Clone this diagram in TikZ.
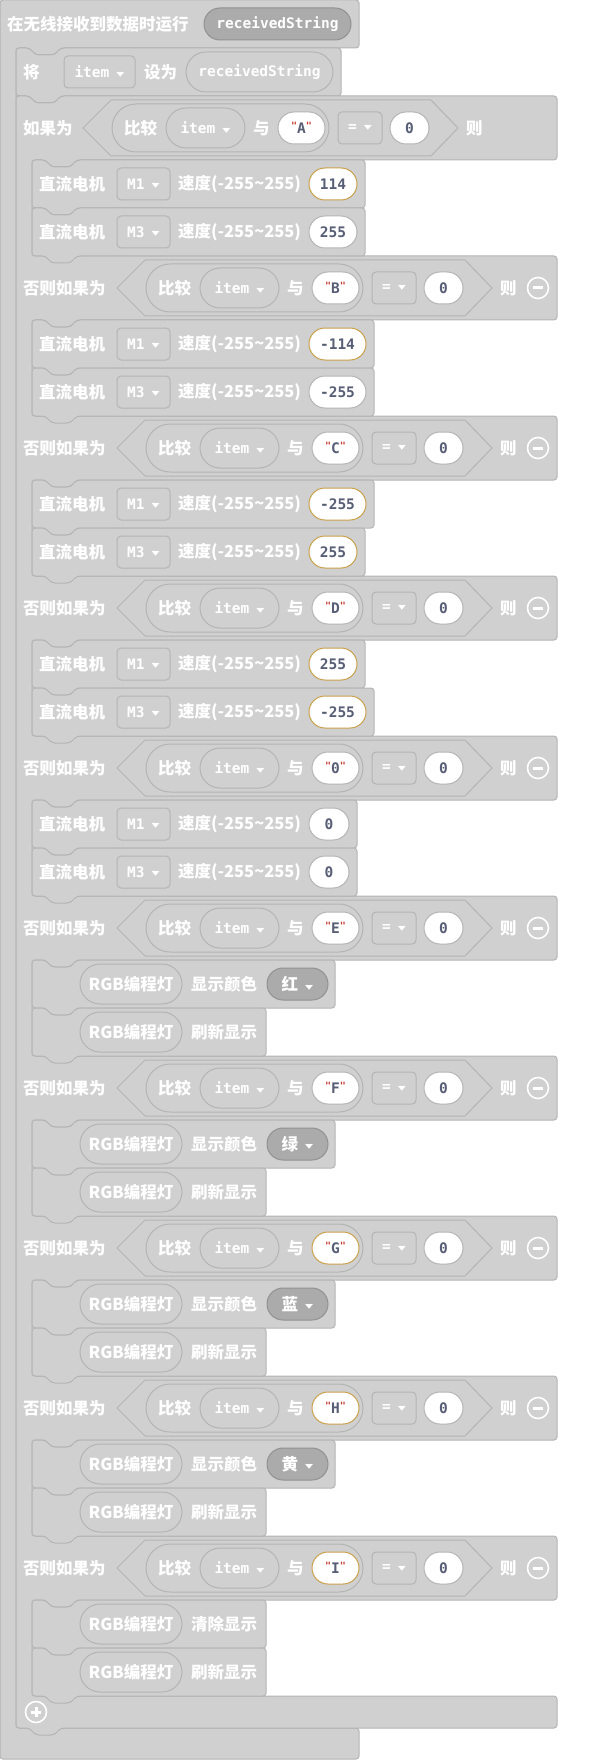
\documentclass[tikz,border=0pt]{standalone}
\usepackage{fontspec}
\usetikzlibrary{positioning, backgrounds}
\setmonofont{DejaVu Sans Mono}
\newfontfamily\cjk{Noto Sans CJK SC}
\newfontfamily\symf{DejaVu Sans}

\definecolor{blkfill}{HTML}{D0D0D0}
\definecolor{blkline}{HTML}{B4B4B4}
\definecolor{darkfill}{HTML}{ABABAB}
\definecolor{valtext}{HTML}{575E75}
\definecolor{focus}{HTML}{C9A04A}
\definecolor{qred}{HTML}{C8372D}

\tikzset{
	blk/.style={fill=blkfill, draw=blkline, line width=1pt, rounded corners=3pt},
	hexa/.style={fill=blkfill, draw=blkline, line width=1pt},
	cjkfont/.style={font=\cjk\bfseries\fontsize{16.5}{16.5}\selectfont},
	lbl/.style={anchor=west, inner sep=0pt, text=white, cjkfont},
	mono/.style={font=\ttfamily\bfseries\fontsize{14.5}{14.5}\selectfont},
	dropbox/.style={mono, draw=blkline, fill=blkfill, line width=1pt, rounded corners=4pt,
		text=white, inner sep=0pt, minimum height=32},
	roundbox/.style={mono, draw=blkline, fill=blkfill, line width=1pt, rounded corners=20pt,
		text=white, inner sep=0pt, minimum height=40},
	valpill/.style={mono, draw=blkline, fill=white, line width=1pt, rounded corners=16pt,
		text=valtext, inner sep=0pt, minimum height=32},
	darkpill/.style={draw=darkfill!85!black, fill=darkfill, line width=1pt, rounded corners=16pt,
		text=white, inner sep=0pt, minimum height=32},
	plain/.style={},
	focused/.style={draw=focus},
	icon/.style={circle, draw=white, line width=1.6pt, minimum size=21, inner sep=0pt},
}

\newcommand{\arr}{\hspace{7pt}\raisebox{1.5pt}{\scalebox{1.5}[0.9]{\symf\fontsize{7}{7}\selectfont ▼}}}
\newcommand{\qm}{\textcolor{qred}{\raisebox{4.5pt}{\fontsize{10}{10}\selectfont"}}}

% statement block: left, top, right, bottom
\newcommand{\stmt}[4]{%
	\path[blk] (#1,#2) -- ++(13,0) -- ++(7,7) -- ++(18,0) -- ++(7,-7)
		-- (#3,#2) -- (#3,#4) -- ({#1+45},#4) -- ++(-7,7) -- ++(-18,0)
		-- ++(-7,-7) -- (#1,#4) -- cycle;}

% motor: name, top, port, value, right edge, pill style
\newcommand{\motor}[6]{%
	\stmt{32}{#2}{#5}{#2+48}
	\node[lbl] (#1) at (39,#2+24) {直流电机};
	\node[dropbox, minimum width=53] (#1-port) at (143.5,#2+24) {#3\arr};
	\node[lbl] (#1-speed) at (178,#2+24) {速度(-255\textasciitilde 255)};
	\node[valpill, #6, minimum width={#5-317}] (#1-val) at ({(#5+301)/2},#2+24) {#4};
}

% rgb light: name, top, colour
\newcommand{\rgbcolour}[3]{%
	\stmt{32}{#2}{335}{#2+48}
	\node[roundbox, cjkfont, minimum width=102] (#1) at (131,#2+24) {RGB编程灯};
	\node[lbl] (#1-act) at (191,#2+24) {显示颜色};
	\node[darkpill, cjkfont, minimum width=61] (#1-col) at (297.5,#2+24) {#3\arr};
}
\newcommand{\rgbaction}[3]{%
	\stmt{32}{#2}{266}{#2+48}
	\node[roundbox, cjkfont, minimum width=102] (#1) at (131,#2+24) {RGB编程灯};
	\node[lbl] (#1-act) at (191,#2+24) {#3};
}

% condition row: name, top, shift, word, letter, pill style
\newcommand{\cond}[6]{%
	\node[lbl] (#1) at (23,#2+32) {#4};
	\path[hexa] ({117+(#3)},#2+32) -- ({145+(#3)},#2+4) -- ({465+(#3)},#2+4)
		-- ({492+(#3)},#2+32) -- ({465+(#3)},#2+60) -- ({145+(#3)},#2+60) -- cycle;
	\node[roundbox, minimum width=217, minimum height=48, rounded corners=24pt] (#1-cmp)
		at ({254.5+(#3)},#2+32) {};
	\node[lbl] (#1-kw) at ({158+(#3)},#2+32) {比较};
	\node[roundbox, minimum width=79] (#1-var) at ({239.5+(#3)},#2+32) {item\arr};
	\node[lbl] (#1-with) at ({287+(#3)},#2+32) {与};
	\node[valpill, #6, minimum width=47] (#1-str) at ({335.5+(#3)},#2+32) {\qm#5\qm};
	\node[dropbox, minimum width=44] (#1-op) at ({394+(#3)},#2+32) {=\arr};
	\node[valpill, minimum width=39] (#1-num) at ({443.5+(#3)},#2+32) {0};
	\node[lbl] (#1-then) at ({500+(#3)},#2+32) {则};
}

\begin{document}
\begin{tikzpicture}[x=1pt, y=-1pt]
\useasboundingbox (0,0) rectangle (608,1760);

% hat block
\path[blk] (0,0) -- (359,0) -- (359,48) -- (61,48) -- ++(-7,7) -- ++(-18,0) -- ++(-7,-7)
	-- (16,48) -- (16,1728) -- (359,1728) -- (359,1759) -- (0,1759) -- cycle;
\node[lbl] (hat) at (7,24) {在无线接收到数据时运行};
\node[darkpill, mono, minimum width=147] (hat-arg) at (277.5,24) {receivedString};

% set item
\stmt{16}{48}{341}{96}
\node[lbl] (set) at (23,72) {将};
\node[dropbox, minimum width=71] (set-var) at (99.5,72) {item\arr};
\node[lbl] (set-to) at (144,72) {设为};
\node[roundbox, minimum width=147] (set-val) at (259.5,72) {receivedString};

% if / else if block
\path[blk] (16,96) -- ++(13,0) -- ++(7,7) -- ++(18,0) -- ++(7,-7) -- (557,96)
	\foreach \k in {0,...,9} {
		-- (557,160+160*\k) -- (77,160+160*\k) -- ++(-7,7) -- ++(-18,0) -- ++(-7,-7)
		-- (32,160+160*\k) -- (32,256+160*\k) -- (557,256+160*\k)
	}
	-- (557,1728) -- (61,1728) -- ++(-7,7) -- ++(-18,0) -- ++(-7,-7) -- (16,1728) -- cycle;

\cond{if0}{96}{-34}{如果为}{A}{plain}
\foreach \k/\ch/\f in {1/B/plain, 2/C/plain, 3/D/plain, 4/0/plain, 5/E/plain,
		6/F/plain, 7/G/focused, 8/H/focused, 9/I/focused}{
	\cond{if\k}{96+160*\k}{0}{否则如果为}{\ch}{\f}
	\node[icon] (minus\k) at (538,128+160*\k) {};
	\draw[white, line width=3pt] (minus\k.center) ++(-5,0) -- ++(10,0);
}

% motors
\foreach \k/\va/\fa/\wa/\vb/\fb/\wb in {0/114/focused/365/255/plain/365,
		1/-114/focused/374/-255/plain/374, 2/-255/focused/374/255/focused/365,
		3/255/focused/365/-255/focused/374, 4/0/plain/357/0/plain/357}{
	\motor{m\k a}{160+160*\k}{M1}{\va}{\wa}{\fa}
	\motor{m\k b}{208+160*\k}{M3}{\vb}{\wb}{\fb}
}

% rgb lights
\foreach \k/\col in {5/红, 6/绿, 7/蓝, 8/黄}{
	\rgbcolour{r\k a}{160+160*\k}{\col}
	\rgbaction{r\k b}{208+160*\k}{刷新显示}
}
\rgbaction{r9a}{1600}{清除显示}
\rgbaction{r9b}{1648}{刷新显示}

\node[icon] (plus) at (36,1712) {};
\draw[white, line width=3pt] (plus.center) ++(-5,0) -- ++(10,0)
	(plus.center) ++(0,-5) -- ++(0,10);

\end{tikzpicture}
\end{document}
